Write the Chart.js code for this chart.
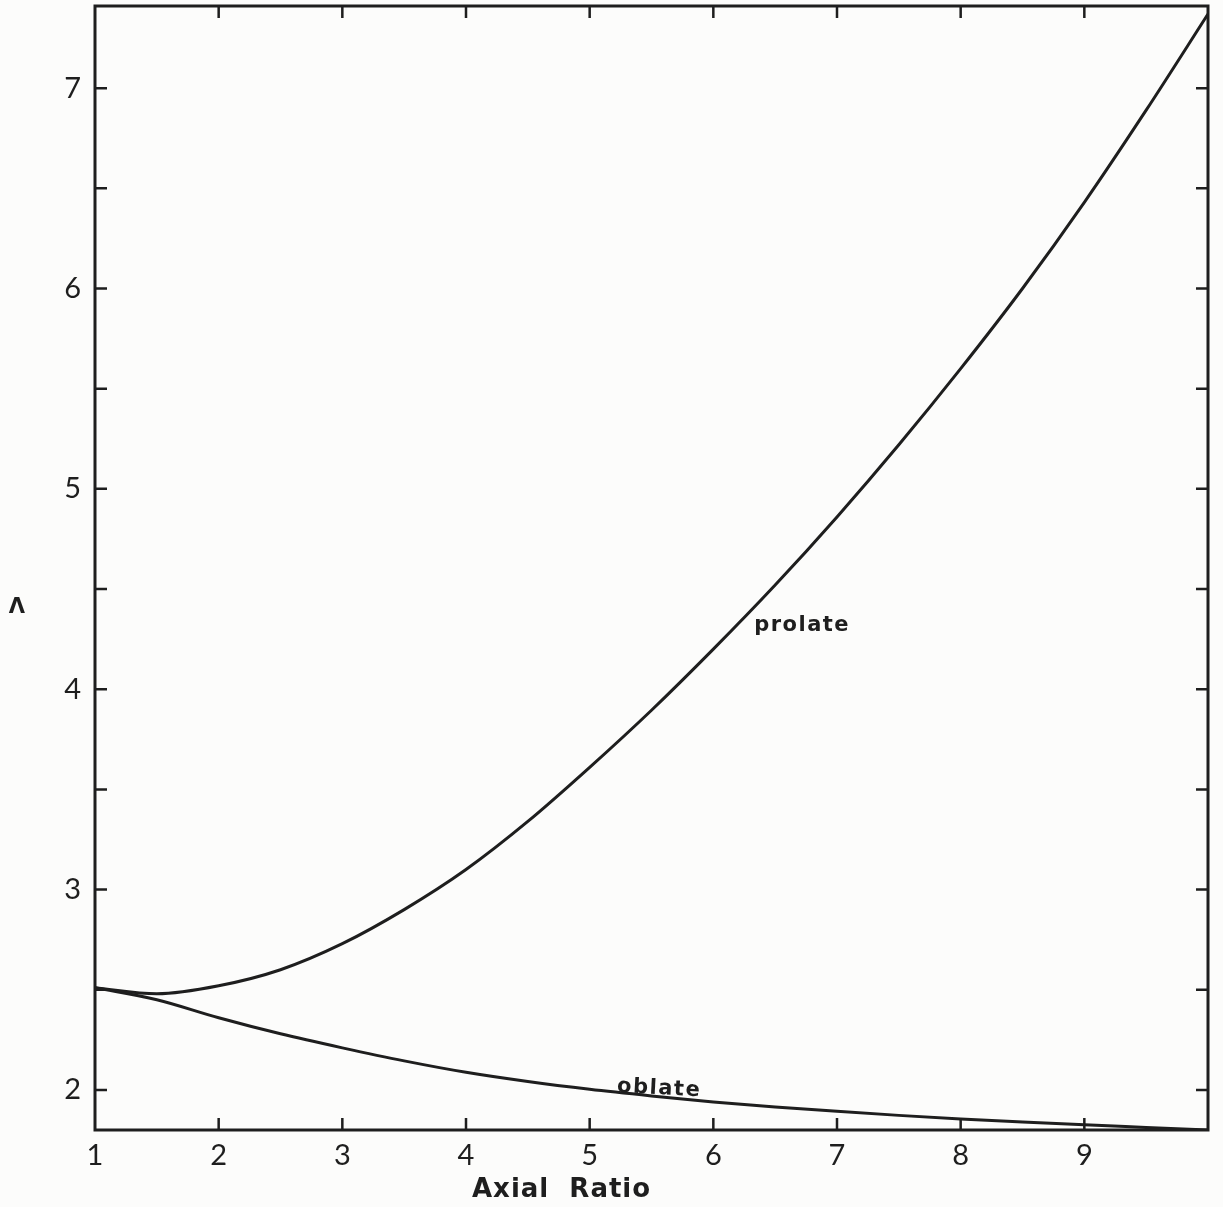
<!DOCTYPE html>
<html>
<head>
<meta charset="utf-8">
<script src="https://cdn.jsdelivr.net/npm/chart.js@4.4.0/dist/chart.umd.min.js"></script>
<style>
  html, body { margin: 0; padding: 0; background: #fcfcfb; }
  #wrap { width: 1223px; height: 1207px; position: relative; }
</style>
</head>
<body>
<div id="wrap"><canvas id="lambdaChart"></canvas></div>
<script>
// Axial ratio vs. Lambda for prolate and oblate ellipsoids
const ratios  = [1, 1.5, 2, 2.5, 3, 3.5, 4, 4.5, 5, 5.5, 6, 6.5, 7, 7.5, 8, 8.5, 9, 9.5, 10];
const prolate = [2.51, 2.48, 2.52, 2.60, 2.73, 2.90, 3.10, 3.34, 3.61, 3.895, 4.20, 4.52, 4.86, 5.22, 5.60, 6.00, 6.43, 6.89, 7.37];
const oblate  = [2.51, 2.45, 2.36, 2.28, 2.21, 2.145, 2.088, 2.042, 2.003, 1.97, 1.94, 1.915, 1.893, 1.873, 1.855, 1.84, 1.826, 1.813, 1.80];

const xTicks = [1, 2, 3, 4, 5, 6, 7, 8, 9, 10];
const xLabels = ['1', '2', '3', '4', '5', '6', '7', '8', '9', ''];
const yTicks = [2, 2.5, 3, 3.5, 4, 4.5, 5, 5.5, 6, 6.5, 7];

const ink = '#1e1e1e';
const numFont = { family: 'Lato, "Liberation Sans", sans-serif', size: 29, weight: 'normal' };

const toPoints = (xs, ys) => xs.map((x, i) => ({ x: x, y: ys[i] }));

// frame, inward tick marks and the text labels
const framePlugin = {
  id: 'frame',
  beforeDraw(chart) {
    const ctx = chart.ctx;
    ctx.save();
    ctx.fillStyle = '#fcfcfb';
    ctx.fillRect(0, 0, chart.width, chart.height);
    ctx.restore();
  },
  afterDatasetsDraw(chart) {
    const { ctx, chartArea: a, scales: { x, y } } = chart;
    const len = 12;
    ctx.save();
    ctx.strokeStyle = ink;
    ctx.lineWidth = 3;
    ctx.strokeRect(a.left, a.top, a.right - a.left, a.bottom - a.top);

    ctx.lineWidth = 2.5;
    ctx.beginPath();
    xTicks.slice(1, -1).forEach(v => {
      const px = x.getPixelForValue(v);
      ctx.moveTo(px, a.bottom); ctx.lineTo(px, a.bottom - len);
      ctx.moveTo(px, a.top); ctx.lineTo(px, a.top + len);
    });
    yTicks.forEach(v => {
      const py = y.getPixelForValue(v);
      ctx.moveTo(a.left, py); ctx.lineTo(a.left + len, py);
      ctx.moveTo(a.right, py); ctx.lineTo(a.right - len, py);
    });
    ctx.stroke();

    ctx.fillStyle = ink;
    ctx.textBaseline = 'alphabetic';
    ctx.textAlign = 'left';

    ctx.font = 'bold 21px "DejaVu Sans", sans-serif';
    ctx.letterSpacing = '1.5px';
    ctx.fillText('prolate', x.getPixelForValue(6.33), y.getPixelForValue(4.29));

    ctx.save();
    ctx.translate(x.getPixelForValue(5.22), y.getPixelForValue(1.99));
    ctx.rotate(3 * Math.PI / 180);
    ctx.fillText('oblate', 0, 0);
    ctx.restore();

    ctx.font = 'bold 26px "DejaVu Sans", sans-serif';
    ctx.letterSpacing = '1px';
    ctx.fillText('Axial  Ratio', 472, 1197);

    ctx.letterSpacing = '0px';
    ctx.font = 'bold 21px "DejaVu Sans", sans-serif';
    ctx.textAlign = 'center';
    ctx.fillText('Λ', 17, 613);
    ctx.restore();
  }
};

new Chart(document.getElementById('lambdaChart'), {
  type: 'line',
  data: {
    datasets: [
      {
        label: 'prolate',
        data: toPoints(ratios, prolate),
        borderColor: ink,
        borderWidth: 3,
        pointRadius: 0,
        cubicInterpolationMode: 'monotone'
      },
      {
        label: 'oblate',
        data: toPoints(ratios, oblate),
        borderColor: ink,
        borderWidth: 3,
        pointRadius: 0,
        cubicInterpolationMode: 'monotone'
      }
    ]
  },
  options: {
    responsive: true,
    maintainAspectRatio: false,
    animation: false,
    layout: { padding: { top: 6, right: 15, left: 0, bottom: 0 } },
    plugins: {
      legend: { display: false },
      tooltip: { enabled: false }
    },
    scales: {
      x: {
        type: 'linear',
        min: 1,
        max: 10,
        afterBuildTicks: s => { s.ticks = xTicks.map(v => ({ value: v })); },
        afterFit: s => { s.height = 77; s.paddingLeft = 0; s.paddingRight = 0; },
        grid: { display: false, drawTicks: false },
        border: { display: false },
        ticks: {
          color: ink,
          font: numFont,
          padding: 8,
          maxRotation: 0,
          autoSkip: false,
          callback: v => xLabels[xTicks.indexOf(v)]
        }
      },
      y: {
        type: 'linear',
        min: 1.8,
        max: 7.41,
        afterBuildTicks: s => { s.ticks = yTicks.map(v => ({ value: v })); },
        afterFit: s => { s.width = 95; s.paddingTop = 0; s.paddingBottom = 0; },
        grid: { display: false, drawTicks: false },
        border: { display: false },
        ticks: {
          color: ink,
          font: numFont,
          padding: 14,
          autoSkip: false,
          callback: v => Number.isInteger(v) ? String(v) : ''
        }
      }
    }
  },
  plugins: [framePlugin]
});
</script>
</body>
</html>
